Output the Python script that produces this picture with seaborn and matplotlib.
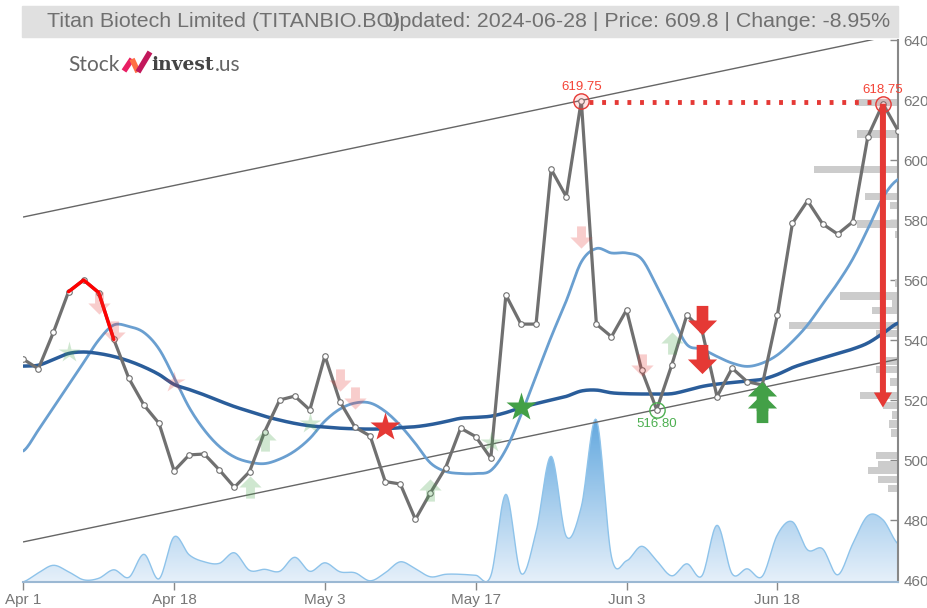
import numpy as np
import pandas as pd
import seaborn as sns
import matplotlib
matplotlib.use('Agg')
import matplotlib.pyplot as plt
from matplotlib.path import Path
from matplotlib.patches import Rectangle, FancyArrow
from matplotlib.lines import Line2D
from matplotlib.colors import LinearSegmentedColormap

# ---- data (one point per trading session) ----
tick_pos = [0, 10, 20, 30, 40, 50]
tick_labels = ['Apr 1', 'Apr 18', 'May 3', 'May 17', 'Jun 3', 'Jun 18']

price = [533.6, 530.4, 542.6, 556.1, 560.0, 555.8, 540.2, 527.2, 518.3, 512.2,
         496.4, 501.7, 502.0, 496.7, 490.9, 496.1, 509.4, 520.0, 521.3, 516.7,
         534.7, 519.4, 510.9, 508.0, 492.8, 492.0, 480.2, 489.1, 497.4, 510.6,
         507.8, 500.6, 555.0, 545.3, 545.3, 596.9, 587.8, 619.75, 545.3, 541.1,
         550.0, 530.0, 516.8, 531.7, 548.3, 543.3, 521.1, 530.6, 526.1, 525.0,
         548.3, 578.9, 586.4, 578.7, 575.3, 579.4, 607.8, 618.75, 609.8]

ma_fast = [503, 510, 517.5, 525, 532.5, 540, 545, 544.5, 542.5, 537,
           527.5, 517.5, 510, 504.5, 501, 499.3, 498.8, 500.3, 503, 507.2,
           513, 517, 519, 519, 516.2, 511.5, 505.5, 499, 496.2, 495.5,
           495.5, 496.5, 503.5, 515, 528, 541, 553, 566, 570.5, 569,
           569, 567, 558, 548, 538.5, 537, 534.5, 532.3, 531.2, 532.3,
           535, 539.5, 545, 552, 559, 567, 577, 587.5, 593.5]

ma_slow = [531.3, 531.6, 533.5, 535.5, 536, 535.5, 534.5, 533, 531, 528.5,
           525.2, 523.5, 521.7, 519.7, 517.8, 516.2, 514.6, 513.3, 512.2, 511.4,
           511, 510.6, 510.4, 510.3, 510.4, 510.8, 511.1, 511.8, 512.8, 513.9,
           514.2, 514.6, 515.8, 517.5, 518.8, 520, 521.2, 523, 523.3, 522.4,
           522.1, 522, 522, 522.1, 523.2, 524.5, 525.3, 525.8, 526.3, 526.9,
           528.5, 530.8, 532.5, 534, 535.5, 537, 539, 542.2, 545.6]

volume = [0, 9, 16.5, 10, 2, 3.5, 12, 4.5, 27.5, 3,
          45, 27, 20, 18.5, 29, 11.5, 12.5, 10.5, 24.5, 10.5,
          19, 10, 9, 1, 9, 20, 13, 5, 7.5, 7.5,
          6.5, 6, 87.5, 8.5, 50, 125.5, 45.5, 75, 162, 25,
          21, 35.5, 21, 6, 18, 6, 56.5, 8, 13, 5.5,
          47, 60, 32, 33, 7, 38, 66, 62, 38]

profile_price = [619.3, 608.7, 596.8, 587.8, 584.8, 578.7, 575.2, 559, 554.7, 552,
                 549.8, 544.8, 542.3, 533, 530.2, 526, 521.4, 518.3, 515, 512,
                 509, 501.4, 498.6, 496.4, 493.6, 490.6]
profile_vol = [42, 41, 84, 33, 8, 41, 3, 3, 58, 6,
               26, 109, 22, 12, 22, 8, 38, 15, 6, 9,
               7, 22, 20, 30, 20, 10]

channel_x = [0, 58]
channel_upper = [581.0, 641.9]
channel_lower = [472.7, 533.6]

# signals: (index, price)
sell_faded = [(5, 552.2), (6, 542.8), (21, 526.7), (22, 520.6), (37, 574.4), (41, 531.7)]
buy_faded = [(15, 491.1), (16, 506.7), (27, 490.0), (43, 538.9)]
star_faded_buy = [(3, 536.1), (19, 512.2), (31, 506.1)]
star_faded_sell = [(10, 526.1)]
star_sell = [(24, 511.1)]
star_buy = [(33, 517.8)]
sell_strong = [(45, 546.8), (45, 533.6)]
buy_strong = [(49, 521.4), (49, 517.4)]
red_run = [3, 4, 5, 6]

high_idx, low_idx, last_high_idx = 37, 42, 57
target_price = 517.5

title_left = 'Titan Biotech Limited (TITANBIO.BO)'
title_right = 'Updated: 2024-06-28 | Price: 609.8 | Change: -8.95%'


def spline(y, k=12):
    # catmull-rom through the points, for the smooth lines
    y = np.asarray(y, float)
    n = len(y)
    p = np.concatenate([[y[0]], y, [y[-1]]])
    t = np.linspace(0, 1, k, endpoint=False)
    xs, ys = [], []
    for i in range(n - 1):
        p0, p1, p2, p3 = p[i], p[i + 1], p[i + 2], p[i + 3]
        ys.append(0.5 * (2 * p1 + (-p0 + p2) * t + (2 * p0 - 5 * p1 + 4 * p2 - p3) * t ** 2
                         + (-p0 + 3 * p1 - 3 * p2 + p3) * t ** 3))
        xs.append(i + t)
    xs.append([n - 1])
    ys.append([y[-1]])
    return np.concatenate(xs), np.concatenate(ys)


sns.set_theme(style='white')
plt.rcParams['font.family'] = ['Liberation Sans', 'DejaVu Sans']

RED = '#e53935'
GREEN = '#43a047'
GRAY = '#707070'

fig = plt.figure(figsize=(9.28, 6.08), dpi=100)
ax = fig.add_axes([23.3 / 928, 1 - 581.8 / 608, (898 - 23.3) / 928, 541.8 / 608])
base = 459.4
ax.set_xlim(0, 58)
ax.set_ylim(base, 640)

idx = np.arange(len(price))

# volume area with a vertical gradient
vx, vy = spline(volume, 16)
vy = np.clip(vy, 0, None) / 3.0 + base
poly = ax.fill_between(vx, base, vy, color='none', lw=0, zorder=1)
cmap = LinearSegmentedColormap.from_list('vol', ['#e6f0fa', '#64a9df'])
grad = np.linspace(0, 1, 256).reshape(-1, 1)
im = ax.imshow(grad, extent=[0, 58, base, base + max(volume) / 3.0], origin='lower',
               aspect='auto', cmap=cmap, zorder=1)
im.set_clip_path(poly.get_paths()[0], transform=ax.transData)
ax.plot(vx, vy, color='#8ec3ea', lw=1, zorder=1.1)

# volume profile on the right
pw = np.array(profile_vol) / 15.08
ax.barh(profile_price, pw, left=58 - pw, height=2.4, color='#cccccc', lw=0, zorder=2)

# trend channel
ax.plot(channel_x, channel_upper, color='#666666', lw=1, zorder=2)
ax.plot(channel_x, channel_lower, color='#666666', lw=1, zorder=2)

# moving averages
fx, fy = spline(ma_fast)
sx, sy = spline(ma_slow)
sns.lineplot(x=fx, y=fy, ax=ax, color='#6a9fd0', lw=2, zorder=3)
sns.lineplot(x=sx, y=sy, ax=ax, color='#2a5d9a', lw=2.5, zorder=3)

# price line
sns.lineplot(x=idx, y=price, ax=ax, color=GRAY, lw=2.3, marker='o', markersize=4,
             markerfacecolor='white', markeredgecolor=GRAY, markeredgewidth=0.8, zorder=5)
ax.plot(red_run, [price[i] for i in red_run], color='#ff0000', lw=2.5, zorder=5.5)

# arrow marker shapes
down = Path([(-0.2, 0.5), (0.2, 0.5), (0.2, 0.0), (0.5, 0.0), (0.0, -0.5),
             (-0.5, 0.0), (-0.2, 0.0), (-0.2, 0.5)], closed=True)
up = Path([(-0.2, -0.5), (0.2, -0.5), (0.2, 0.0), (0.5, 0.0), (0.0, 0.5),
           (-0.5, 0.0), (-0.2, 0.0), (-0.2, -0.5)], closed=True)


def marks(pts, marker, color, size, alpha=1.0, z=6):
    ax.plot([p[0] for p in pts], [p[1] for p in pts], ls='none', marker=marker,
            ms=size, color=color, mec='none', alpha=alpha, zorder=z)


marks(sell_faded, down, RED, 16, 0.25)
marks(buy_faded, up, GREEN, 16, 0.25)
marks(star_faded_buy, '*', GREEN, 16, 0.25)
marks(star_faded_sell, '*', RED, 16, 0.25)
marks(star_sell, '*', RED, 22)
marks(star_buy, '*', GREEN, 22)
marks(sell_strong, down, RED, 21)
marks(buy_strong, up, GREEN, 21)

# high / low annotations
level = (price[high_idx] + price[last_high_idx]) / 2
ax.plot([high_idx + 0.5, last_high_idx - 0.5], [level, level], color=RED, lw=3.5,
        ls=(0, (0.8, 1.8)), zorder=4)
for i in (high_idx, last_high_idx):
    ax.plot(i, price[i], 'o', ms=11, mfc=(1, 0.3, 0.3, 0.15), mec=RED, mew=1, zorder=6)
    ax.text(i, price[i] + 2.7, f'{price[i]:.2f}', color='#f44336', fontsize=9.5,
            ha='center', va='bottom', zorder=7)
ax.plot(low_idx, price[low_idx], 'o', ms=11, mfc='none', mec='#4caf50', mew=1, zorder=6)
ax.text(low_idx, price[low_idx] - 2.7, f'{price[low_idx]:.2f}', color='#4caf50',
        fontsize=9.5, ha='center', va='top', zorder=7)

arr = FancyArrow(last_high_idx, price[last_high_idx], 0, target_price - price[last_high_idx],
                 width=0.4, head_width=1.2, head_length=5, length_includes_head=True,
                 color=RED, lw=0, zorder=7)
ax.add_patch(arr)

# axes styling
ax.set_xticks(tick_pos, tick_labels)
ax.yaxis.tick_right()
ax.set_yticks(range(460, 641, 20))
ax.tick_params(axis='y', direction='in', length=6, width=1, color='#888888',
               labelcolor='#777777', labelsize=11, pad=4, right=True, left=False)
ax.tick_params(axis='x', direction='out', length=6, width=1, color='#888888',
               labelcolor='#777777', labelsize=11, pad=2, bottom=True)
for s in ('left', 'top'):
    ax.spines[s].set_visible(False)
ax.spines['right'].set_color('#888888')
ax.spines['right'].set_linewidth(1.5)
ax.spines['bottom'].set_color('#9bb8d3')
ax.spines['bottom'].set_linewidth(1.5)
ax.set_xlabel('')
ax.set_ylabel('')

# title band
fig.patches.append(Rectangle((22 / 928, 1 - 37 / 608), (898 - 22) / 928, 31 / 608,
                             transform=fig.transFigure, color='#e0e0e0', zorder=0))
fig.text(47 / 928, 1 - 21.5 / 608, title_left, fontsize=15.4, color='#707070', va='center')
fig.text(890 / 928, 1 - 21.5 / 608, title_right, fontsize=15.4, color='#707070',
         va='center', ha='right')

# logo
fig.text(68 / 928, 1 - 65 / 608, 'Stock', fontsize=15, color='#666666', va='center',
         family=['Lato', 'DejaVu Sans'])
for xs_, ys_, c in (([124, 132], [71, 59], '#e91e63'),
                    ([132, 138], [59, 72], '#ff7043'),
                    ([138, 150], [72, 52], '#c2185b')):
    fig.add_artist(Line2D([x / 928 for x in xs_], [1 - y / 608 for y in ys_],
                          transform=fig.transFigure, color=c, lw=4, solid_capstyle='butt'))
fig.text(151 / 928, 1 - 65 / 608, 'invest', fontsize=13.5, color='#444444', va='center',
         weight='bold', family=['DejaVu Serif'])
fig.text(215 / 928, 1 - 65 / 608, '.us', fontsize=15, color='#666666', va='center',
         family=['Lato', 'DejaVu Sans'])

fig.savefig('out.png', dpi=100)
